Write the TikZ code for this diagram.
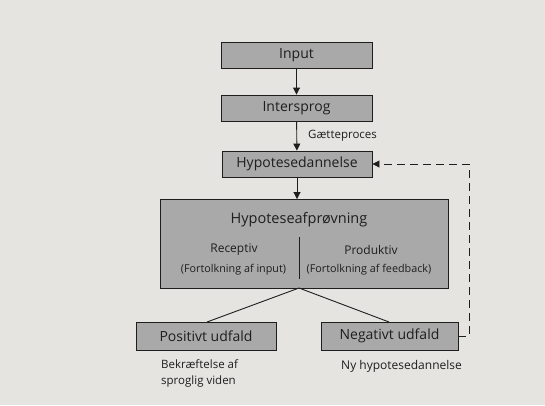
\documentclass[tikz,border=0pt]{standalone}
\usepackage{fontspec}
\setmainfont{Open Sans}
\usetikzlibrary{arrows.meta}
\definecolor{paper}{HTML}{E6E4E1}
\definecolor{boxgray}{HTML}{A9A9A9}
\definecolor{ink}{HTML}{1E1E1E}
\tikzset{
  box/.style={draw=ink, line width=0.9pt, fill=boxgray, inner sep=0pt, text=ink},
  conn/.style={draw=ink, line width=0.9pt},
  arr/.style={conn, -{Triangle[width=7pt,length=7pt]}},
  lbl/.style={text=ink, inner sep=0pt, font=\fontsize{11.5}{14}\selectfont},
}
\begin{document}
\begin{tikzpicture}[x=1pt,y=-1pt]
\fill[paper] (0,0) rectangle (545,405);
\useasboundingbox (0,0) rectangle (545,405);
\node[box, minimum width=151pt, minimum height=26pt, font=\fontsize{14}{16}\selectfont] (input) at (296.5,55) {Input};
\node[box, minimum width=151pt, minimum height=26pt, font=\fontsize{14}{16}\selectfont] (inter) at (296.5,108) {Intersprog};
\node[box, minimum width=150pt, minimum height=26pt, font=\fontsize{14}{16}\selectfont] (hyp) at (297,164) {Hypotesedannelse};
\node[box, minimum width=288pt, minimum height=89pt] (test) at (304,244) {};
\node[text=ink, inner sep=0pt, font=\fontsize{14.5}{17}\selectfont] (testt) at (299,220) {Hypoteseafprøvning};
\coordinate (divtop) at (299,237);
\coordinate (divbot) at (299,279);
\draw[conn] (divtop) -- (divbot);
\node[lbl, font=\fontsize{12}{14}\selectfont] (rec) at (234,250) {Receptiv};
\node[lbl, font=\fontsize{12}{14}\selectfont] (prod) at (371,250) {Produktiv};
\node[lbl, font=\fontsize{10.8}{13}\selectfont] (reci) at (233.5,270) {(Fortolkning af input)};
\node[lbl, font=\fontsize{10.8}{13}\selectfont] (prodi) at (369,270) {(Fortolkning af feedback)};
\node[box, minimum width=140pt, minimum height=28pt, font=\fontsize{14}{16}\selectfont] (pos) at (206,336) {Positivt udfald};
\node[box, minimum width=137pt, minimum height=28pt, font=\fontsize{14}{16}\selectfont] (neg) at (389.5,336) {Negativt udfald};
\node[lbl, align=left, anchor=north west, font=\fontsize{11.5}{16}\selectfont] (bek) at (161,359) {Bekræftelse af\\sproglig viden};
\node[lbl, anchor=north west, font=\fontsize{12}{14}\selectfont] (ny) at (341,360) {Ny hypotesedannelse};
\draw[arr] (input) -- (inter);
\draw[arr] (inter) -- node[lbl, right=11pt, pos=0.5] (gaet) {Gætteproces} (hyp);
\draw[arr] (hyp.south) -- (hyp.south |- test.north);
\coordinate (split) at (299,288);
\draw[conn] (split) -- (207,322);
\draw[conn] (split) -- (389,322);
\coordinate (dr) at (469,336);
\coordinate (ur) at (469,164);
\draw[arr, dash pattern=on 8pt off 5pt] (neg.east) -- (dr) -- (ur) -- (hyp.east);
\end{tikzpicture}
\end{document}
